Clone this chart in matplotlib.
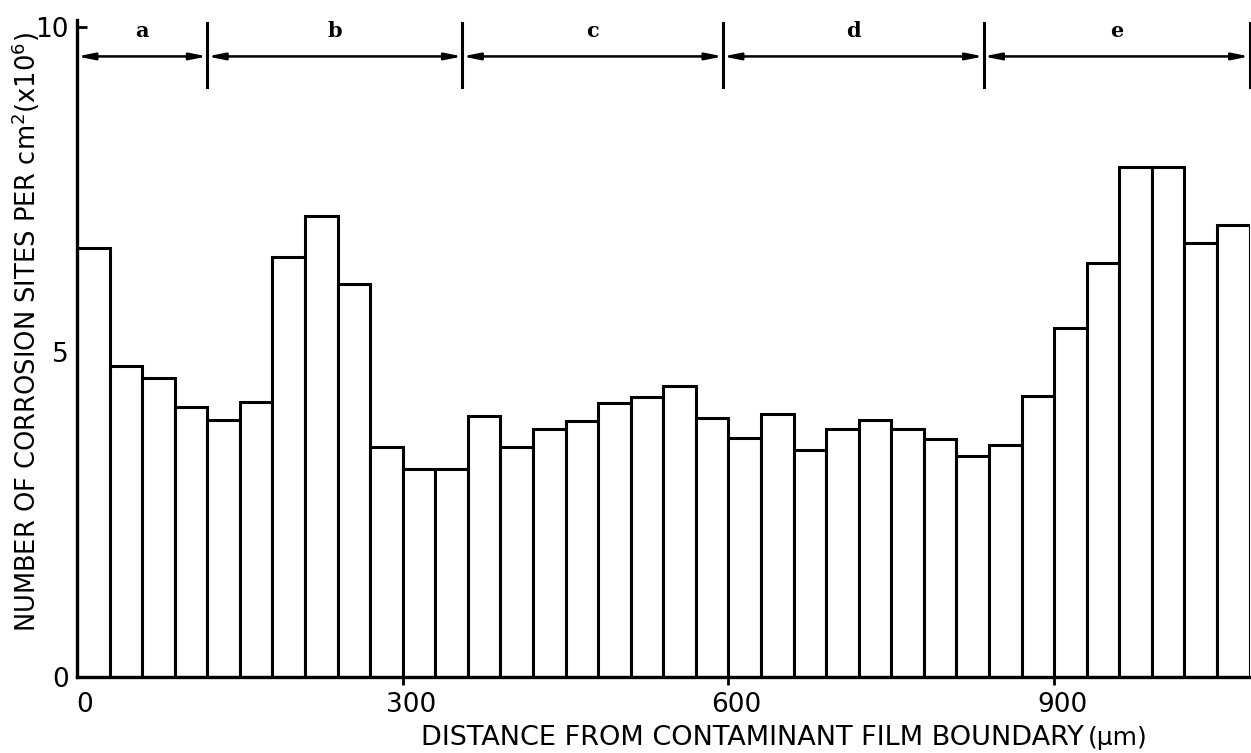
import matplotlib
matplotlib.use("Agg")
import matplotlib.pyplot as plt
from matplotlib.transforms import ScaledTranslation

# ---- data ----
bin_width = 30  # µm
counts = [6.59, 4.78, 4.60, 4.15, 3.95, 4.22, 6.45, 7.09, 6.04, 3.54,
          3.19, 3.19, 4.01, 3.53, 3.81, 3.93, 4.21, 4.31, 4.47, 3.98,
          3.67, 4.05, 3.49, 3.81, 3.95, 3.81, 3.66, 3.40, 3.57, 4.32,
          5.36, 6.36, 7.84, 7.84, 6.67, 6.95]
bin_left = [i * bin_width for i in range(len(counts))]

zone_labels = ["a", "b", "c", "d", "e"]
zone_edges = [0, 120, 355, 595, 835, 1080]

x_ticks = [0, 300, 600, 900]
x_tick_labels = ["0", "300", "600", "900"]
y_ticks = [0, 5, 10]
y_tick_labels = ["0", "5", "10"]

xlabel = "DISTANCE FROM CONTAMINANT FILM BOUNDARY"
xunit = "(µm)"
ylabel = r"NUMBER OF CORROSION SITES PER cm$^{2}$(x10$^{6}$)"

# ---- figure ----
W, H = 1251, 753
fig = plt.figure(figsize=(W / 100, H / 100), dpi=100)
ax_left, ax_right, ax_bottom, ax_top = 77, 1249.5, 677, 20
ax_w = ax_right - ax_left
ax = fig.add_axes([ax_left / W, (H - ax_bottom) / H,
                   ax_w / W, (ax_bottom - ax_top) / H])

ax.bar(bin_left, counts, width=bin_width, align="edge",
       facecolor="white", edgecolor="black", linewidth=2.2, zorder=2)

ax.set_xlim(0, 1080)
ax.set_ylim(0, 10.1)

for s in ["top", "right"]:
    ax.spines[s].set_visible(False)
for s in ["left", "bottom"]:
    ax.spines[s].set_linewidth(2.4)
    ax.spines[s].set_zorder(3)

ax.set_xticks(x_ticks)
ax.set_xticklabels(x_tick_labels, fontsize=19)
ax.set_yticks(y_ticks)
ax.set_yticklabels(y_tick_labels, fontsize=19)
ax.tick_params(axis="x", direction="out", length=6, width=2, pad=5)
ax.tick_params(axis="y", direction="in", length=7, width=2, pad=6)
ax.xaxis.get_major_ticks()[0].tick1line.set_visible(False)
shift = ScaledTranslation(8 / 100, 0, fig.dpi_scale_trans)
for lab in ax.get_xticklabels():
    lab.set_transform(lab.get_transform() + shift)

# x label followed by unit
ax.text((1084 - ax_left) / ax_w, -0.093, xlabel,
        transform=ax.transAxes, ha="right", va="center", fontsize=19.5)
ax.text((1088 - ax_left) / ax_w, -0.093, xunit,
        transform=ax.transAxes, ha="left", va="center", fontsize=18)

fig.text(26 / W, (H - 332) / H, ylabel, rotation=90, ha="center",
         va="center", fontsize=18.5)

# zone annotations
arrow_y = 9.54
for i, lab in enumerate(zone_labels):
    x0, x1 = zone_edges[i], zone_edges[i + 1]
    ax.annotate("", xy=(x1, arrow_y), xytext=(x0, arrow_y),
                arrowprops=dict(arrowstyle="<|-|>,head_length=1.0,head_width=0.2",
                                color="black", lw=1.8, shrinkA=0, shrinkB=0),
                zorder=4, annotation_clip=False)
    ax.text((x0 + x1) / 2, 9.93, lab, ha="center", va="center",
            fontsize=15, fontweight="bold", family="DejaVu Serif")
for xe in zone_edges[1:]:
    ax.plot([xe, xe], [9.07, 10.05], color="black", lw=2.2,
            clip_on=False, zorder=4)

fig.savefig("out.png", dpi=100, facecolor="white")
